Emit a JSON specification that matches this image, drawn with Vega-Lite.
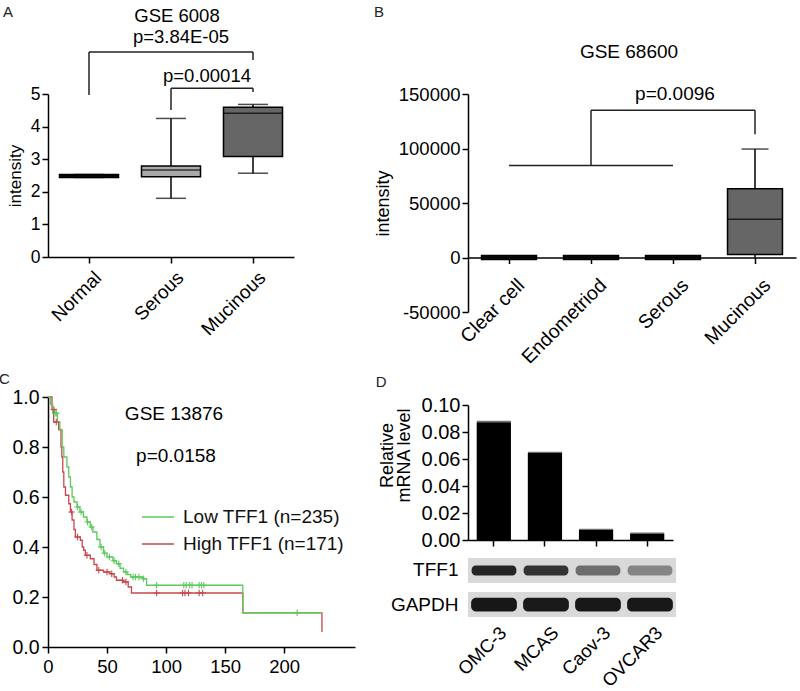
{
  "$schema": "https://vega.github.io/schema/vega-lite/v6.json",
  "autosize": {"type": "none"},
  "padding": {"left": 48, "top": 94, "right": 752, "bottom": 597},
  "background": "white",
  "datasets": {
    "boxA": [
      {"group": "Normal", "low": 2.44, "q1": 2.44, "median": 2.49, "q3": 2.53, "high": 2.53},
      {"group": "Serous", "low": 1.8, "q1": 2.46, "median": 2.67, "q3": 2.79, "high": 4.25},
      {"group": "Mucinous", "low": 2.57, "q1": 3.08, "median": 4.41, "q3": 4.59, "high": 4.68}
    ],
    "bracketA": [
      {"a": "Normal", "b": "Mucinous", "y1": 6.29, "y2": 6.29},
      {"a": "Normal", "b": "Normal", "y1": 4.97, "y2": 6.29},
      {"a": "Mucinous", "b": "Mucinous", "y1": 6.04, "y2": 6.29},
      {"a": "Serous", "b": "Mucinous", "y1": 5.18, "y2": 5.18},
      {"a": "Serous", "b": "Serous", "y1": 4.51, "y2": 5.18},
      {"a": "Mucinous", "b": "Mucinous", "y1": 5.06, "y2": 5.18}
    ],
    "boxB": [
      {"group": "Clear cell", "low": 0, "q1": -1800, "median": 0, "q3": 1800, "high": 0},
      {"group": "Endometriod", "low": 0, "q1": -1800, "median": 0, "q3": 1800, "high": 0},
      {"group": "Serous", "low": 0, "q1": -1800, "median": 0, "q3": 1800, "high": 0},
      {"group": "Mucinous", "low": 0, "q1": 2800, "median": 35000, "q3": 63000, "high": 99500}
    ],
    "bracketB": [
      {"a": "Clear cell", "b": "Serous", "y1": 84500, "y2": 84500},
      {"a": "Endometriod", "b": "Endometriod", "y1": 84500, "y2": 135000},
      {"a": "Endometriod", "b": "Mucinous", "y1": 135000, "y2": 135000},
      {"a": "Mucinous", "b": "Mucinous", "y1": 113000, "y2": 135000}
    ],
    "km": [
      {"grp": "Low TFF1 (n=235)", "t": 0, "s": 1.0},
      {"grp": "Low TFF1 (n=235)", "t": 2, "s": 0.97},
      {"grp": "Low TFF1 (n=235)", "t": 4, "s": 0.935},
      {"grp": "Low TFF1 (n=235)", "t": 8, "s": 0.9},
      {"grp": "Low TFF1 (n=235)", "t": 10, "s": 0.868},
      {"grp": "Low TFF1 (n=235)", "t": 12, "s": 0.8},
      {"grp": "Low TFF1 (n=235)", "t": 13.4, "s": 0.76},
      {"grp": "Low TFF1 (n=235)", "t": 16, "s": 0.72},
      {"grp": "Low TFF1 (n=235)", "t": 17.6, "s": 0.68},
      {"grp": "Low TFF1 (n=235)", "t": 19, "s": 0.64},
      {"grp": "Low TFF1 (n=235)", "t": 20.4, "s": 0.6},
      {"grp": "Low TFF1 (n=235)", "t": 22, "s": 0.58},
      {"grp": "Low TFF1 (n=235)", "t": 24.6, "s": 0.56},
      {"grp": "Low TFF1 (n=235)", "t": 27, "s": 0.54},
      {"grp": "Low TFF1 (n=235)", "t": 30, "s": 0.52},
      {"grp": "Low TFF1 (n=235)", "t": 33, "s": 0.5},
      {"grp": "Low TFF1 (n=235)", "t": 35.8, "s": 0.48},
      {"grp": "Low TFF1 (n=235)", "t": 38, "s": 0.46},
      {"grp": "Low TFF1 (n=235)", "t": 41.4, "s": 0.43},
      {"grp": "Low TFF1 (n=235)", "t": 44, "s": 0.4},
      {"grp": "Low TFF1 (n=235)", "t": 47, "s": 0.375},
      {"grp": "Low TFF1 (n=235)", "t": 50, "s": 0.36},
      {"grp": "Low TFF1 (n=235)", "t": 55, "s": 0.345},
      {"grp": "Low TFF1 (n=235)", "t": 58, "s": 0.333},
      {"grp": "Low TFF1 (n=235)", "t": 61, "s": 0.315},
      {"grp": "Low TFF1 (n=235)", "t": 64, "s": 0.3},
      {"grp": "Low TFF1 (n=235)", "t": 67, "s": 0.29},
      {"grp": "Low TFF1 (n=235)", "t": 70, "s": 0.28},
      {"grp": "Low TFF1 (n=235)", "t": 80, "s": 0.273},
      {"grp": "Low TFF1 (n=235)", "t": 83.5, "s": 0.247},
      {"grp": "Low TFF1 (n=235)", "t": 165, "s": 0.137},
      {"grp": "Low TFF1 (n=235)", "t": 232, "s": 0.137},
      {"grp": "High TFF1 (n=171)", "t": 0, "s": 1.0},
      {"grp": "High TFF1 (n=171)", "t": 3.4, "s": 0.95},
      {"grp": "High TFF1 (n=171)", "t": 4.8, "s": 0.9},
      {"grp": "High TFF1 (n=171)", "t": 9, "s": 0.87},
      {"grp": "High TFF1 (n=171)", "t": 11, "s": 0.8},
      {"grp": "High TFF1 (n=171)", "t": 11.7, "s": 0.76},
      {"grp": "High TFF1 (n=171)", "t": 12.5, "s": 0.7},
      {"grp": "High TFF1 (n=171)", "t": 13.4, "s": 0.64},
      {"grp": "High TFF1 (n=171)", "t": 14.8, "s": 0.607},
      {"grp": "High TFF1 (n=171)", "t": 17.6, "s": 0.573},
      {"grp": "High TFF1 (n=171)", "t": 19, "s": 0.54},
      {"grp": "High TFF1 (n=171)", "t": 20.4, "s": 0.508},
      {"grp": "High TFF1 (n=171)", "t": 22, "s": 0.47},
      {"grp": "High TFF1 (n=171)", "t": 23.2, "s": 0.44},
      {"grp": "High TFF1 (n=171)", "t": 27.4, "s": 0.427},
      {"grp": "High TFF1 (n=171)", "t": 29, "s": 0.4},
      {"grp": "High TFF1 (n=171)", "t": 30.2, "s": 0.387},
      {"grp": "High TFF1 (n=171)", "t": 31.6, "s": 0.367},
      {"grp": "High TFF1 (n=171)", "t": 35.8, "s": 0.353},
      {"grp": "High TFF1 (n=171)", "t": 39, "s": 0.33},
      {"grp": "High TFF1 (n=171)", "t": 41.4, "s": 0.307},
      {"grp": "High TFF1 (n=171)", "t": 47, "s": 0.3},
      {"grp": "High TFF1 (n=171)", "t": 52.5, "s": 0.293},
      {"grp": "High TFF1 (n=171)", "t": 56, "s": 0.28},
      {"grp": "High TFF1 (n=171)", "t": 58, "s": 0.267},
      {"grp": "High TFF1 (n=171)", "t": 63.7, "s": 0.26},
      {"grp": "High TFF1 (n=171)", "t": 67.9, "s": 0.24},
      {"grp": "High TFF1 (n=171)", "t": 70.7, "s": 0.216},
      {"grp": "High TFF1 (n=171)", "t": 165, "s": 0.137},
      {"grp": "High TFF1 (n=171)", "t": 232, "s": 0.06}
    ],
    "censor": [
      {"grp": "Low TFF1 (n=235)", "t": 6, "s": 0.935},
      {"grp": "Low TFF1 (n=235)", "t": 7, "s": 0.935},
      {"grp": "Low TFF1 (n=235)", "t": 25, "s": 0.56},
      {"grp": "Low TFF1 (n=235)", "t": 28, "s": 0.54},
      {"grp": "Low TFF1 (n=235)", "t": 33.5, "s": 0.5},
      {"grp": "Low TFF1 (n=235)", "t": 37, "s": 0.48},
      {"grp": "Low TFF1 (n=235)", "t": 45, "s": 0.4},
      {"grp": "Low TFF1 (n=235)", "t": 48, "s": 0.375},
      {"grp": "Low TFF1 (n=235)", "t": 52, "s": 0.36},
      {"grp": "Low TFF1 (n=235)", "t": 56, "s": 0.345},
      {"grp": "Low TFF1 (n=235)", "t": 60, "s": 0.333},
      {"grp": "Low TFF1 (n=235)", "t": 66, "s": 0.3},
      {"grp": "Low TFF1 (n=235)", "t": 72, "s": 0.28},
      {"grp": "Low TFF1 (n=235)", "t": 74, "s": 0.28},
      {"grp": "Low TFF1 (n=235)", "t": 77, "s": 0.28},
      {"grp": "Low TFF1 (n=235)", "t": 81, "s": 0.273},
      {"grp": "Low TFF1 (n=235)", "t": 92, "s": 0.247},
      {"grp": "Low TFF1 (n=235)", "t": 115, "s": 0.247},
      {"grp": "Low TFF1 (n=235)", "t": 117, "s": 0.247},
      {"grp": "Low TFF1 (n=235)", "t": 120, "s": 0.247},
      {"grp": "Low TFF1 (n=235)", "t": 122, "s": 0.247},
      {"grp": "Low TFF1 (n=235)", "t": 128, "s": 0.247},
      {"grp": "Low TFF1 (n=235)", "t": 130, "s": 0.247},
      {"grp": "Low TFF1 (n=235)", "t": 132, "s": 0.247},
      {"grp": "Low TFF1 (n=235)", "t": 211, "s": 0.137},
      {"grp": "High TFF1 (n=171)", "t": 5, "s": 0.95},
      {"grp": "High TFF1 (n=171)", "t": 7, "s": 0.9},
      {"grp": "High TFF1 (n=171)", "t": 20, "s": 0.54},
      {"grp": "High TFF1 (n=171)", "t": 25, "s": 0.44},
      {"grp": "High TFF1 (n=171)", "t": 33, "s": 0.367},
      {"grp": "High TFF1 (n=171)", "t": 43, "s": 0.307},
      {"grp": "High TFF1 (n=171)", "t": 50, "s": 0.3},
      {"grp": "High TFF1 (n=171)", "t": 54, "s": 0.293},
      {"grp": "High TFF1 (n=171)", "t": 63, "s": 0.267},
      {"grp": "High TFF1 (n=171)", "t": 66, "s": 0.26},
      {"grp": "High TFF1 (n=171)", "t": 92, "s": 0.216},
      {"grp": "High TFF1 (n=171)", "t": 114, "s": 0.216},
      {"grp": "High TFF1 (n=171)", "t": 116, "s": 0.216},
      {"grp": "High TFF1 (n=171)", "t": 119, "s": 0.216},
      {"grp": "High TFF1 (n=171)", "t": 128, "s": 0.216},
      {"grp": "High TFF1 (n=171)", "t": 131, "s": 0.216}
    ],
    "qpcr": [
      {"line": "OMC-3", "value": 0.0873, "hi": 0.0878},
      {"line": "MCAS", "value": 0.0645, "hi": 0.0649},
      {"line": "Caov-3", "value": 0.0075, "hi": 0.0079},
      {"line": "OVCAR3", "value": 0.0048, "hi": 0.0052}
    ],
    "blot": [
      {"lane": "OMC-3", "protein": "TFF1", "signal": 0.88},
      {"lane": "MCAS", "protein": "TFF1", "signal": 0.8},
      {"lane": "Caov-3", "protein": "TFF1", "signal": 0.5},
      {"lane": "OVCAR3", "protein": "TFF1", "signal": 0.38},
      {"lane": "OMC-3", "protein": "GAPDH", "signal": 0.97},
      {"lane": "MCAS", "protein": "GAPDH", "signal": 0.95},
      {"lane": "Caov-3", "protein": "GAPDH", "signal": 0.96},
      {"lane": "OVCAR3", "protein": "GAPDH", "signal": 0.96}
    ]
  },
  "spacing": 420,
  "bounds": "flush",
  "resolve": {"scale": {"color": "independent"}, "legend": {"color": "independent"}},
  "hconcat": [
    {
      "spacing": 140,
      "bounds": "flush",
      "resolve": {"scale": {"color": "independent"}, "legend": {"color": "independent"}},
      "vconcat": [
        {
          "width": 246,
          "height": 163,
          "layer": [
            {
              "data": {"name": "boxA"},
              "mark": {"type": "rule", "color": "#000", "strokeWidth": 1.5},
              "encoding": {
                "x": {"field": "group", "type": "nominal", "sort": null,
                      "scale": {"domain": ["Normal", "Serous", "Mucinous"], "paddingInner": 0, "paddingOuter": 0},
                      "axis": {"title": null, "labelAngle": -45, "labelFontSize": 19, "labelPadding": 5, "labelOffset": 3}},
                "y": {"field": "low", "type": "quantitative",
                      "scale": {"domain": [0, 5], "nice": false, "zero": false},
                      "axis": {"title": "intensity", "values": [0, 1, 2, 3, 4, 5], "tickCount": 12, "format": "d", "labelOverlap": false, "labelFontSize": 17.5, "titleFontSize": 17, "titlePadding": 6}},
                "y2": {"field": "q1"}
              }
            },
            {
              "data": {"name": "boxA"},
              "mark": {"type": "rule", "color": "#000", "strokeWidth": 1.5},
              "encoding": {
                "x": {"field": "group", "type": "nominal"},
                "y": {"field": "q3", "type": "quantitative"},
                "y2": {"field": "high"}
              }
            },
            {
              "data": {"name": "boxA"},
              "mark": {"type": "tick", "size": 30, "thickness": 1.5, "color": "#000"},
              "encoding": {
                "x": {"field": "group", "type": "nominal"},
                "y": {"field": "low", "type": "quantitative"}
              }
            },
            {
              "data": {"name": "boxA"},
              "mark": {"type": "tick", "size": 30, "thickness": 1.5, "color": "#000"},
              "encoding": {
                "x": {"field": "group", "type": "nominal"},
                "y": {"field": "high", "type": "quantitative"}
              }
            },
            {
              "data": {"name": "boxA"},
              "mark": {"type": "bar", "width": {"band": 0.72}, "stroke": "#000", "strokeWidth": 1.5},
              "encoding": {
                "x": {"field": "group", "type": "nominal"},
                "y": {"field": "q1", "type": "quantitative"},
                "y2": {"field": "q3"},
                "color": {"field": "group", "type": "nominal", "legend": null,
                          "scale": {"domain": ["Normal", "Serous", "Mucinous"], "range": ["#111111", "#a9a9a9", "#666666"]}}
              }
            },
            {
              "data": {"name": "boxA"},
              "mark": {"type": "tick", "size": 59, "thickness": 1.5, "color": "#000"},
              "encoding": {
                "x": {"field": "group", "type": "nominal"},
                "y": {"field": "median", "type": "quantitative"}
              }
            },
            {
              "data": {"name": "bracketA"},
              "mark": {"type": "rule", "color": "#222", "strokeWidth": 1.5},
              "encoding": {
                "x": {"field": "a", "type": "nominal"},
                "x2": {"field": "b"},
                "y": {"field": "y1", "type": "quantitative"},
                "y2": {"field": "y2"}
              }
            },
            {
              "data": {"values": [{"label": "GSE 6008", "group": "Serous", "y": 7.21}]},
              "mark": {"type": "text", "fontSize": 18.5, "dx": 6, "align": "center", "baseline": "alphabetic"},
              "encoding": {
                "x": {"field": "group", "type": "nominal"},
                "y": {"field": "y", "type": "quantitative"},
                "text": {"field": "label"}
              }
            },
            {
              "data": {"values": [{"label": "p=3.84E-05", "group": "Serous", "y": 6.56}]},
              "mark": {"type": "text", "fontSize": 18.5, "dx": 10, "align": "center", "baseline": "alphabetic"},
              "encoding": {
                "x": {"field": "group", "type": "nominal"},
                "y": {"field": "y", "type": "quantitative"},
                "text": {"field": "label"}
              }
            },
            {
              "data": {"values": [{"label": "p=0.00014", "group": "Serous", "y": 5.37}]},
              "mark": {"type": "text", "fontSize": 18.5, "dx": 36, "align": "center", "baseline": "alphabetic"},
              "encoding": {
                "x": {"field": "group", "type": "nominal"},
                "y": {"field": "y", "type": "quantitative"},
                "text": {"field": "label"}
              }
            },
            {
              "data": {"values": [{"label": "A", "group": "Normal", "y": 7.36}]},
              "mark": {"type": "text", "fontSize": 15, "dx": -86, "align": "left", "baseline": "alphabetic", "color": "#222"},
              "encoding": {
                "x": {"field": "group", "type": "nominal"},
                "y": {"field": "y", "type": "quantitative"},
                "text": {"field": "label"}
              }
            }
          ]
        },
        {
          "width": 307,
          "height": 250,
          "layer": [
            {
              "data": {"name": "km"},
              "transform": [{"filter": "datum.grp == 'High TFF1 (n=171)'"}],
              "mark": {"type": "line", "interpolate": "step-after", "strokeWidth": 1.3},
              "encoding": {
                "x": {"field": "t", "type": "quantitative",
                      "scale": {"domain": [0, 260], "nice": false},
                      "axis": {"title": null, "values": [0, 50, 100, 150, 200], "tickCount": 12, "format": "d", "labelFontSize": 18.5, "labelPadding": 4}},
                "y": {"field": "s", "type": "quantitative",
                      "scale": {"domain": [0, 1], "nice": false},
                      "axis": {"title": null, "values": [0, 0.2, 0.4, 0.6, 0.8, 1.0], "tickCount": 12, "format": ".1f", "labelFontSize": 19.5, "labelPadding": 3}},
                "color": {"field": "grp", "type": "nominal",
                          "scale": {"domain": ["Low TFF1 (n=235)", "High TFF1 (n=171)"], "range": ["#5cc95c", "#c9474b"]},
                          "legend": {"title": null, "orient": "none", "legendX": 93, "legendY": 103, "symbolType": "stroke", "symbolSize": 1024, "symbolStrokeWidth": 1.5, "labelFontSize": 19, "labelOffset": 8, "labelLimit": 400, "rowPadding": -1, "padding": 0, "labelColor": "#111"}}
              }
            },
            {
              "data": {"name": "km"},
              "transform": [{"filter": "datum.grp == 'Low TFF1 (n=235)'"}],
              "mark": {"type": "line", "interpolate": "step-after", "strokeWidth": 1.3},
              "encoding": {
                "x": {"field": "t", "type": "quantitative"},
                "y": {"field": "s", "type": "quantitative"},
                "color": {"field": "grp", "type": "nominal"}
              }
            },
            {
              "data": {"name": "censor"},
              "mark": {"type": "point", "shape": "M-1,0H1M0,-1V1", "filled": false, "size": 40, "strokeWidth": 1.1, "opacity": 1},
              "encoding": {
                "x": {"field": "t", "type": "quantitative"},
                "y": {"field": "s", "type": "quantitative"},
                "color": {"field": "grp", "type": "nominal"}
              }
            },
            {
              "data": {"values": [{"label": "GSE 13876", "t": 106.7, "s": 0.908}]},
              "mark": {"type": "text", "fontSize": 19, "align": "center", "baseline": "alphabetic"},
              "encoding": {
                "x": {"field": "t", "type": "quantitative"},
                "y": {"field": "s", "type": "quantitative"},
                "text": {"field": "label"}
              }
            },
            {
              "data": {"values": [{"label": "p=0.0158", "t": 108.4, "s": 0.74}]},
              "mark": {"type": "text", "fontSize": 19, "align": "center", "baseline": "alphabetic"},
              "encoding": {
                "x": {"field": "t", "type": "quantitative"},
                "y": {"field": "s", "type": "quantitative"},
                "text": {"field": "label"}
              }
            },
            {
              "data": {"values": [{"label": "C", "t": -41.5, "s": 1.052}]},
              "mark": {"type": "text", "fontSize": 15, "align": "left", "baseline": "alphabetic", "color": "#222"},
              "encoding": {
                "x": {"field": "t", "type": "quantitative"},
                "y": {"field": "s", "type": "quantitative"},
                "text": {"field": "label"}
              }
            }
          ]
        }
      ]
    },
    {
      "spacing": 18,
      "bounds": "flush",
      "resolve": {"scale": {"color": "independent"}, "legend": {"color": "independent"}},
      "vconcat": [
        {
          "width": 328,
          "height": 218,
          "layer": [
            {
              "data": {"name": "boxB"},
              "mark": {"type": "rule", "color": "#000", "strokeWidth": 1.5},
              "encoding": {
                "x": {"field": "group", "type": "nominal", "sort": null,
                      "scale": {"domain": ["Clear cell", "Endometriod", "Serous", "Mucinous"], "paddingInner": 0, "paddingOuter": 0},
                      "axis": {"title": null, "labelAngle": -45, "labelFontSize": 19.5, "offset": -54.5, "labelPadding": 12, "labelOffset": 6}},
                "y": {"field": "low", "type": "quantitative",
                      "scale": {"domain": [-50000, 150000], "nice": false, "zero": false},
                      "axis": {"title": "intensity", "values": [-50000, 0, 50000, 100000, 150000], "tickCount": 12, "labelExpr": "datum.value < 0 ? '-' + format(-datum.value, 'd') : format(datum.value, 'd')", "labelFontSize": 18.5, "titleFontSize": 18, "titlePadding": 6}},
                "y2": {"field": "q1"}
              }
            },
            {
              "data": {"name": "boxB"},
              "mark": {"type": "rule", "color": "#000", "strokeWidth": 1.5},
              "encoding": {
                "x": {"field": "group", "type": "nominal"},
                "y": {"field": "q3", "type": "quantitative"},
                "y2": {"field": "high"}
              }
            },
            {
              "data": {"name": "boxB"},
              "transform": [{"filter": "datum.high > 0"}],
              "mark": {"type": "tick", "size": 27, "thickness": 1.5, "color": "#000"},
              "encoding": {
                "x": {"field": "group", "type": "nominal"},
                "y": {"field": "high", "type": "quantitative"}
              }
            },
            {
              "data": {"name": "boxB"},
              "mark": {"type": "bar", "width": {"band": 0.67}, "stroke": "#000", "strokeWidth": 1.5},
              "encoding": {
                "x": {"field": "group", "type": "nominal"},
                "y": {"field": "q1", "type": "quantitative"},
                "y2": {"field": "q3"},
                "color": {"field": "group", "type": "nominal", "legend": null,
                          "scale": {"domain": ["Clear cell", "Endometriod", "Serous", "Mucinous"], "range": ["#111111", "#111111", "#111111", "#666666"]}}
              }
            },
            {
              "data": {"name": "boxB"},
              "mark": {"type": "tick", "size": 54, "thickness": 1.5, "color": "#000"},
              "encoding": {
                "x": {"field": "group", "type": "nominal"},
                "y": {"field": "median", "type": "quantitative"}
              }
            },
            {
              "data": {"name": "bracketB"},
              "mark": {"type": "rule", "color": "#222", "strokeWidth": 1.5},
              "encoding": {
                "x": {"field": "a", "type": "nominal"},
                "x2": {"field": "b"},
                "y": {"field": "y1", "type": "quantitative"},
                "y2": {"field": "y2"}
              }
            },
            {
              "data": {"values": [{"label": "GSE 68600", "group": "Endometriod", "y": 183000}]},
              "mark": {"type": "text", "fontSize": 19, "dx": 38, "align": "center", "baseline": "alphabetic"},
              "encoding": {
                "x": {"field": "group", "type": "nominal"},
                "y": {"field": "y", "type": "quantitative"},
                "text": {"field": "label"}
              }
            },
            {
              "data": {"values": [{"label": "p=0.0096", "group": "Serous", "y": 144500}]},
              "mark": {"type": "text", "fontSize": 19, "dx": 2, "align": "center", "baseline": "alphabetic"},
              "encoding": {
                "x": {"field": "group", "type": "nominal"},
                "y": {"field": "y", "type": "quantitative"},
                "text": {"field": "label"}
              }
            },
            {
              "data": {"values": [{"label": "B", "group": "Clear cell", "y": 220600}]},
              "mark": {"type": "text", "fontSize": 15, "dx": -135, "align": "left", "baseline": "alphabetic", "color": "#222"},
              "encoding": {
                "x": {"field": "group", "type": "nominal"},
                "y": {"field": "y", "type": "quantitative"},
                "text": {"field": "label"}
              }
            }
          ]
        },
        {
          "width": 1,
          "height": 57,
          "data": {"values": [{"v": 0}]},
          "mark": {"type": "text", "text": ""},
          "encoding": {}
        },
        {
          "width": 205,
          "height": 135,
          "layer": [
            {
              "data": {"name": "qpcr"},
              "mark": {"type": "bar", "color": "#000"},
              "encoding": {
                "x": {"field": "line", "type": "nominal", "sort": null,
                      "scale": {"domain": ["OMC-3", "MCAS", "Caov-3", "OVCAR3"], "paddingInner": 0.33, "paddingOuter": 0.17},
                      "axis": {"title": null, "labels": false}},
                "y": {"field": "value", "type": "quantitative",
                      "scale": {"domain": [0, 0.1], "nice": false},
                      "axis": {"title": ["Relative", "mRNA level"], "values": [0, 0.02, 0.04, 0.06, 0.08, 0.1], "tickCount": 12, "format": ".2f", "labelOverlap": false, "labelFontSize": 20, "titleFontSize": 18, "titlePadding": 8, "titleLineHeight": 17, "titleY": 50}}
              }
            },
            {
              "data": {"name": "qpcr"},
              "mark": {"type": "tick", "size": 34, "thickness": 1.2, "color": "#333"},
              "encoding": {
                "x": {"field": "line", "type": "nominal"},
                "y": {"field": "hi", "type": "quantitative"}
              }
            },
            {
              "data": {"values": [{"label": "D", "line": "OMC-3", "y": 0.1133}]},
              "mark": {"type": "text", "fontSize": 15, "dx": -118, "align": "left", "baseline": "alphabetic", "color": "#222"},
              "encoding": {
                "x": {"field": "line", "type": "nominal"},
                "y": {"field": "y", "type": "quantitative"},
                "text": {"field": "label"}
              }
            }
          ]
        },
        {
          "width": 208,
          "height": 59,
          "data": {"name": "blot"},
          "resolve": {"scale": {"color": "shared"}},
          "layer": [
            {
              "mark": {"type": "rect", "color": "#d9d9d9"},
              "encoding": {
                "x": {"field": "lane", "type": "nominal", "sort": null,
                      "scale": {"domain": ["OMC-3", "MCAS", "Caov-3", "OVCAR3"], "paddingInner": 0, "paddingOuter": 0},
                      "axis": {"title": null, "labelAngle": -45, "labelFontSize": 18.5, "ticks": false, "domain": false, "labelPadding": 6, "labelOffset": 3}},
                "y": {"field": "protein", "type": "nominal", "sort": null,
                      "scale": {"domain": ["TFF1", "GAPDH"], "paddingInner": 0.265, "paddingOuter": 0},
                      "axis": {"title": null, "labelFontSize": 19, "ticks": false, "domain": false, "labelPadding": 10}}
              }
            },
            {
              "transform": [{"filter": "datum.protein == 'TFF1'"}],
              "mark": {"type": "rect", "width": {"band": 0.86}, "height": {"band": 0.4}, "cornerRadius": 4},
              "encoding": {
                "x": {"field": "lane", "type": "nominal"},
                "y": {"field": "protein", "type": "nominal"},
                "color": {"field": "signal", "type": "quantitative", "legend": null,
                          "scale": {"domain": [0, 1], "range": ["#d9d9d9", "#111111"]}}
              }
            },
            {
              "transform": [{"filter": "datum.protein == 'GAPDH'"}],
              "mark": {"type": "rect", "width": {"band": 0.88}, "height": {"band": 0.55}, "cornerRadius": 5},
              "encoding": {
                "x": {"field": "lane", "type": "nominal"},
                "y": {"field": "protein", "type": "nominal"},
                "color": {"field": "signal", "type": "quantitative"}
              }
            }
          ]
        }
      ]
    }
  ],
  "config": {
    "font": "Liberation Sans",
    "view": {"stroke": null},
    "axis": {
      "grid": false,
      "domainColor": "#000",
      "domainWidth": 1.5,
      "tickColor": "#000",
      "tickWidth": 1.5,
      "tickSize": 6,
      "labelColor": "#000",
      "titleColor": "#000",
      "titleFontWeight": "normal",
      "labelFont": "Liberation Sans",
      "titleFont": "Liberation Sans",
      "labelFlush": false
    },
    "text": {"font": "Liberation Sans", "color": "#000"},
    "legend": {"labelFont": "Liberation Sans"}
  }
}
